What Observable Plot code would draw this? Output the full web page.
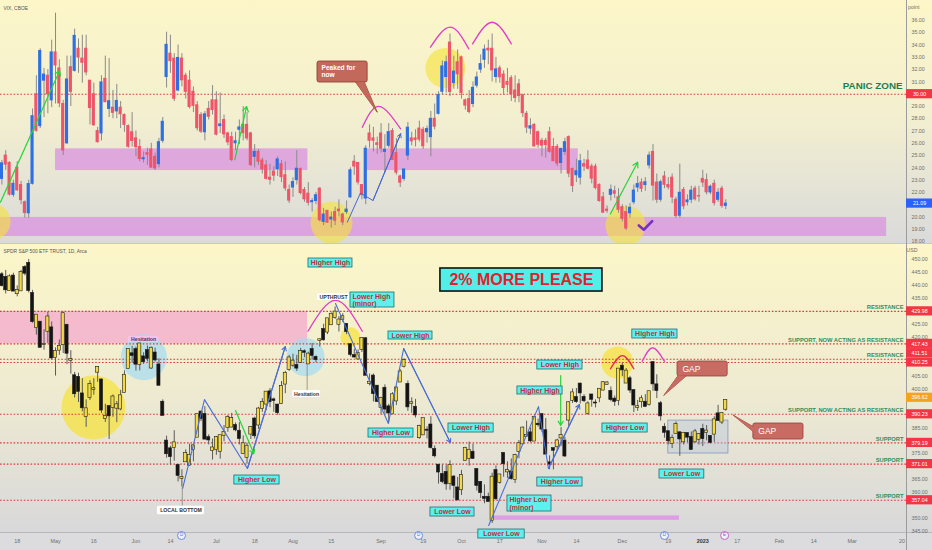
<!DOCTYPE html>
<html>
<head>
<meta charset="utf-8">
<script src="https://cdn.jsdelivr.net/npm/d3@7"></script>
<script src="https://cdn.jsdelivr.net/npm/@observablehq/plot@0.6"></script>
<style>
  html,body{margin:0;padding:0;background:#fff;}
  #wrap{position:relative;width:932px;height:550px;overflow:hidden;font-family:"Liberation Sans",Arial,sans-serif;}
  .layer{position:absolute;left:0;}
  #bgTop{top:0;height:243px;width:932px;background:linear-gradient(180deg,#fcf6c8 0%,#f4f0cf 45%,#dadada 100%);}
  #sep{top:243px;height:1px;width:932px;background:#c8c8c8;}
  #bgBot{top:244px;height:288px;width:932px;background:linear-gradient(180deg,#fcf6c8 0%,#efebd1 50%,#d8d8da 100%);}
  #axisStrip{top:532px;height:18px;width:932px;background:#dcdcde;border-top:1px solid #b9b9b9;box-sizing:border-box;}
  #vline{top:0;left:906px;width:1px;height:550px;background:#9c9c9c;}
  #topPlot{top:0;}
  #botPlot{top:244px;}
</style>
</head>
<body>
<div id="wrap">
  <div id="bgTop" class="layer"></div>
  <div id="sep" class="layer"></div>
  <div id="bgBot" class="layer"></div>
  <div id="axisStrip" class="layer"></div>
  <div id="vline" class="layer"></div>
  <div id="topPlot" class="layer"></div>
  <div id="botPlot" class="layer"></div>
</div>
<script>
// ================= DATA (x = trading-day index, 0 = 2022-04-11) =================
const xTickIndex = [4,14,24,35,44,56,66,76,86,99,110,120,130,141,150,162,174,183,192,203,212,222,235];
const xTickLabel = ["18","May","16","Jun","14","Jul","18","Aug","15","Sep","19","Oct","17","Nov","14","Dec","19","2023","17","Feb","14","Mar","20"];

const vixTicks = [18,19,20,21,22,23,24,25,26,27,28,29,30,31,32,33,34,35,36];
const spyTicks = [345,350,355,360,365,370,375,380,385,390,395,400,405,410,415,420,425,430,435,440,445,450];

// VIX, CBOE daily
const vixOpen = [23.1,25.0,24.4,21.8,24.0,22.6,21.2,20.3,22.7,30.0, 27.4,31.1,31.5,29.5,33.4,32.1,29.2,26.0,32.2,31.9, 33.7,32.9,33.7,31.1,30.0,27.0,26.8,31.25,28.8,28.9, 28.6,28.9,28.3,27.4,26.9,26.4,25.7,24.7,25.2,25.5, 24.9,24.3,26.2,31.4,33.3,32.9,30.3,32.9,31.5,31.1, 30.2,29.1,28.3,26.9,28.8,29.5,29.5,27.4,27.9,26.8, 26.5,26.0,27.1,27.5,27.5,26.8,24.9,25.3,24.6,24.2, 23.2,23.7,23.9,24.3,23.4,22.2,22.4,23.0,23.9,22.2, 21.9,21.2,21.3,22.3,19.6,20.5,19.8,20.4,20.6,20.2, 20.4,21.6,24.5,24.4,22.6,21.5,26.8,26.4,26.0,26.8, 25.3,25.8,27.0,25.2,23.3,23.1,25.0,26.4,26.4,27.2, 27.1,26.9,26.5,28.0,28.4,30.2,31.4,34.2,30.9,32.6, 33.0,29.5,29.6,29.2,30.7,32.0,32.8,33.7,33.7,31.4, 32.1,31.6,31.0,31.3,30.3,30.8,29.9,28.4,27.2,27.5, 26.9,26.2,26.2,26.9,25.7,25.7,24.4,25.3,26.5,23.9, 23.4,23.2,24.3,24.6,24.1,24.1,22.6,21.6,20.6,21.8, 22.1,21.6,20.8,20.4,20.3,21.2,22.4,22.8,22.6,24.2, 25.3,22.8,21.4,23.3,22.6,23.2,21.4,20.1,22.2,21.2, 21.4,22.3,21.7,23.1,23.0,22.0,22.7,21.4,22.3,20.9];
const vixHigh = [24.6,25.4,24.5,23.0,24.5,22.9,21.3,23.0,28.8,31.5, 33.7,32.1,32.0,34.4,36.6,32.8,29.5,33.1,33.1,35.3, 34.5,34.8,34.8,31.1,30.9,27.3,31.5,33.1,32.9,30.3, 30.8,29.4,28.4,27.5,28.5,27.0,26.3,25.3,25.6,26.0, 25.2,26.4,28.1,35.05,34.8,33.3,34.0,33.3,31.7,31.9, 30.6,29.4,28.5,28.6,29.4,30.7,30.2,30.1,28.3,26.9, 26.9,26.9,27.9,29.0,28.5,26.9,25.9,25.5,24.8,24.6, 24.3,24.1,24.9,24.6,24.5,22.6,23.2,25.4,24.0,22.4, 22.8,21.5,22.0,22.4,20.7,20.5,20.4,20.8,21.4,20.3, 21.3,24.0,25.0,24.4,22.6,25.8,27.5,27.3,26.5,27.6, 26.7,27.6,27.2,26.4,23.4,23.9,27.7,26.9,27.1,27.8, 27.3,27.4,28.6,29.2,30.2,32.7,33.1,34.9,33.1,33.6, 33.1,29.6,30.3,31.0,31.8,33.2,34.0,34.4,34.9,33.0, 32.3,31.9,32.1,31.5,31.5,31.2,30.0,28.6,28.0,27.6, 27.0,26.4,26.4,27.3,26.4,25.9,25.6,26.4,26.6,24.0, 24.7,25.1,24.7,25.4,24.3,24.3,22.7,22.0,20.9,22.6, 22.5,22.3,21.0,20.9,21.1,22.6,23.3,23.1,23.2,25.3, 25.9,23.5,23.0,23.7,23.2,23.5,21.6,24.3,22.4,21.8, 22.5,22.5,22.5,23.8,23.5,22.6,23.0,22.3,22.5,21.4];
const vixLow = [22.6,23.8,21.7,21.6,22.1,21.0,19.9,19.9,22.6,26.9, 27.2,28.1,28.4,28.9,29.2,28.9,25.0,25.9,29.0,31.8, 31.7,30.9,31.5,27.5,27.4,26.0,26.2,29.3,28.1,28.0, 28.0,27.2,26.9,25.6,25.7,24.9,24.5,24.4,24.2,24.0, 23.8,24.0,26.0,30.5,31.7,29.4,30.2,30.6,29.6,28.8, 28.5,27.0,26.8,26.2,27.9,28.3,26.6,26.8,26.4,25.8, 24.5,25.4,25.9,26.2,26.2,24.1,24.0,24.2,23.5,23.0, 22.6,22.9,23.3,22.8,22.1,21.1,21.6,22.6,21.8,21.2, 20.9,20.4,21.0,19.6,19.3,19.5,19.1,19.3,20.0,19.3, 20.2,21.5,23.4,22.6,21.4,21.0,25.6,25.3,25.1,25.2, 23.6,25.6,24.6,23.4,22.4,22.9,24.6,25.8,25.7,26.1, 25.5,26.0,24.9,27.1,28.3,29.9,30.1,29.8,30.4,30.4, 29.6,28.7,28.4,28.9,30.5,31.7,32.1,32.4,31.0,30.9, 30.9,29.9,30.1,29.4,29.3,29.3,28.1,26.8,26.7,25.7, 25.6,24.9,24.8,25.2,24.5,24.1,23.5,25.0,23.2,22.0, 22.8,22.6,23.7,23.8,22.7,22.2,21.2,20.3,20.3,21.3, 21.5,20.3,19.6,18.9,19.9,21.0,22.0,22.0,22.1,23.9, 21.3,21.1,21.2,22.3,22.2,21.1,19.9,19.9,20.6,20.9, 21.1,21.3,21.2,22.4,21.8,21.8,20.9,21.2,20.7,20.6];
const vixClose = [24.37,24.26,21.82,22.7,22.17,21.37,20.32,22.68,28.21,27.02, 33.52,31.6,29.99,33.4,32.34,29.25,25.42,31.2,30.19,34.75, 32.99,32.56,31.77,28.87,27.47,26.1,30.96,29.35,29.43,28.48, 29.45,28.37,27.5,25.72,26.19,25.69,24.72,24.79,25.07,24.02, 23.96,26.09,27.75,34.02,32.69,29.62,32.95,31.13,30.19,28.95, 29.05,27.23,26.95,28.36,28.16,28.71,26.7,27.54,26.73,26.08, 24.64,26.17,27.29,26.82,26.4,24.23,25.3,24.5,23.88,23.11, 23.03,23.36,24.69,23.24,22.33,21.33,22.84,23.93,21.95,21.44, 21.15,21.29,21.77,19.74,20.2,19.53,19.95,19.69,20.47,19.56, 20.6,23.8,24.11,22.82,21.78,25.56,26.21,26.21,25.87,25.56, 25.47,26.91,24.64,23.61,22.79,23.87,27.27,26.16,26.27,26.3, 25.76,27.16,27.99,27.35,29.92,32.26,32.6,30.18,31.84,31.62, 30.1,29.07,28.55,30.52,31.36,32.45,33.63,33.57,31.94,32.02, 31.37,30.5,30.76,29.98,29.69,29.85,28.46,27.28,27.39,25.75, 25.88,25.81,25.86,25.3,24.55,24.35,25.54,26.09,23.53,22.52, 23.73,24.54,24.11,23.93,23.12,22.36,21.3,20.35,20.5,22.21, 21.89,20.58,19.84,19.06,20.75,22.15,22.68,22.29,22.83,25.0, 22.55,21.4,22.83,22.62,22.42,21.6,20.07,21.97,20.87,21.35, 22.14,21.44,21.67,22.8,22.01,22.46,21.13,21.97,20.9,21.09];

// SPDR S&P 500 ETF TRUST daily
const spyOpen = [444.1,443.1,438.0,443.6,436.8,437.9,446.9,448.5,436.9,423.7, 425.8,417.2,422.3,423.6,412.1,415.0,417.1,424.6,411.1,405.1, 404.5,398.1,389.4,396.7,399.9,406.5,403.5,388.6,393.2,392.8, 392.6,392.3,398.7,407.9,413.6,415.2,409.4,412.4,414.8,408.1, 413.9,409.3,394.9,379.9,376.9,377.4,370.5,365.5,371.9,370.6, 376.6,381.4,391.1,390.2,381.2,376.2,376.6,375.9,382.1,385.1, 385.3,385.9,383.7,375.1,373.6,382.6,388.4,386.1,392.5,394.2, 398.9,395.8,393.8,394.4,401.9,407.6,409.2,409.1,410.3,414.4, 409.7,415.25,412.2,418.8,422.99,422.0,424.8,427.7,425.0,426.9, 424.98,417.1,412.9,411.6,415.2,419.4,402.2,405.0,401.1,392.9, 400.3,393.1,390.4,395.4,402.7,408.8,401.8,394.5,392.96,381.2, 382.3,384.1,386.1,376.6,370.6,367.0,367.8,363.6,366.0,361.8, 361.1,372.4,373.2,375.6,368.97,363.96,358.2,358.2,349.2,368.5, 364.0,375.1,368.0,368.0,365.1,375.9,378.8,381.6,383.1,379.9, 386.4,390.1,383.9,371.5,377.0,377.7,381.1,379.9,388.0,395.6, 396.7,401.9,396.8,390.5,397.7,394.6,396.6,399.6,401.8,399.1, 396.1,395.5,408.8,402.3,403.95,399.4,392.9,395.1,394.9,394.1, 410.2,401.6,394.3,385.2,383.5,379.0,382.8,383.1,379.6,382.8, 381.3,379.6,380.6,384.4,383.2,381.7,382.6,390.4,387.25,392.2];
const spyHigh = [445.0,445.8,444.1,444.7,439.8,445.8,447.6,450.0,438.1,428.7, 426.0,422.9,429.6,425.9,415.9,418.9,429.7,425.0,414.8,406.4, 406.1,404.0,395.8,403.2,404.0,408.6,403.8,394.1,393.6,397.7, 395.2,399.5,407.0,415.4,416.5,416.2,417.4,414.0,416.6,416.2, 415.8,411.7,395.8,381.8,377.9,383.9,370.9,368.8,376.5,378.7, 378.8,390.1,391.4,393.2,382.3,380.7,381.7,382.0,385.9,389.8, 390.6,386.9,387.0,381.9,379.1,385.3,389.1,392.9,396.3,398.9, 400.2,396.5,394.1,402.9,406.8,413.0,413.4,413.0,415.7,415.1, 414.2,417.6,412.8,419.3,425.0,427.2,429.4,431.7,428.0,429.1, 425.3,417.5,415.4,415.1,419.6,419.9,405.8,405.8,401.2,396.8, 401.6,394.1,398.6,401.0,407.5,411.7,403.1,396.6,396.0,386.0, 388.6,385.4,389.3,378.0,370.6,370.7,370.4,372.3,366.6,365.9, 368.6,377.5,379.5,378.7,369.0,364.2,363.0,359.8,367.5,370.3, 366.8,375.5,371.9,373.0,374.8,380.1,385.3,387.6,385.0,389.5, 388.4,390.4,388.6,374.2,377.1,380.6,385.1,381.3,395.0,400.0, 400.2,402.3,397.8,395.1,397.8,395.8,400.1,402.9,402.9,400.8, 397.3,407.7,410.0,407.9,404.9,399.7,395.6,397.4,397.8,399.0, 410.5,405.5,395.2,386.6,383.8,382.2,387.3,383.3,383.0,383.1, 383.4,384.4,382.6,386.4,385.9,381.8,389.3,393.7,390.7,395.6];
const spyLow = [439.4,436.7,437.8,437.7,435.6,437.7,443.7,437.1,425.4,420.8, 416.1,415.0,417.6,411.2,405.0,413.0,413.7,409.4,405.7,396.5, 394.8,391.2,385.2,395.6,397.6,402.6,390.5,387.1,380.5,389.1, 387.0,391.6,398.5,407.7,410.0,406.9,407.0,409.5,410.5,407.6, 410.4,401.4,389.7,373.3,370.6,372.1,364.1,362.2,371.8,370.2, 371.9,381.4,387.4,380.4,378.4,372.6,374.4,372.9,379.6,383.3, 385.2,383.5,378.4,374.7,371.0,380.5,380.7,384.4,391.0,391.6, 392.8,391.0,389.9,394.0,398.2,406.8,408.4,406.8,410.0,412.1, 409.6,411.2,410.2,416.2,418.5,421.0,424.7,426.9,422.0,425.7, 421.0,412.4,412.0,411.4,414.1,405.3,401.2,395.0,394.8,390.0, 390.3,387.0,390.2,393.6,402.5,408.1,391.4,390.6,388.8,380.6, 382.2,380.7,376.8,373.4,363.3,363.5,360.9,360.9,357.6,357.0, 358.9,372.2,370.2,372.8,360.6,357.7,355.7,356.4,348.1,356.96, 363.3,365.9,365.5,364.8,363.5,373.1,378.7,381.4,379.3,379.7, 385.3,383.3,374.8,368.8,368.8,375.9,377.7,373.6,385.6,394.4, 394.5,394.2,394.8,389.9,393.0,392.7,394.7,399.3,401.5,395.1, 393.3,393.5,404.8,402.2,398.3,390.9,391.4,392.6,393.0,393.4, 399.1,396.3,387.6,381.0,378.4,377.0,382.6,374.0,378.4,379.2, 376.4,379.1,378.4,377.8,380.0,378.8,379.4,387.7,386.3,391.4];
const spyClose = [439.9,438.3,443.3,437.8,437.97,445.04,444.71,438.06,426.04,428.51, 416.1,417.27,427.81,412.0,414.48,416.38,429.06,413.81,411.34,398.17, 399.09,392.75,392.34,401.72,400.09,408.32,391.86,389.46,389.63,396.92, 393.89,397.37,405.31,415.26,412.93,409.59,417.39,410.54,411.79,415.74, 411.22,401.44,389.8,375.0,373.87,379.2,366.65,365.86,375.07,374.39, 378.06,390.08,388.59,380.65,380.34,377.25,381.24,381.96,383.25,388.99, 388.67,384.23,380.83,378.83,377.91,385.13,381.95,392.27,394.77,398.79, 395.09,395.57,390.89,401.04,406.07,411.99,410.77,408.06,414.45,414.17, 413.47,412.99,411.35,419.0,419.0,427.1,428.86,429.7,426.65,427.89, 422.14,413.35,412.35,413.67,419.51,405.31,402.63,398.21,395.18,396.42, 392.24,390.76,397.78,400.38,406.6,410.97,393.1,394.69,389.98,385.56, 388.55,384.09,377.39,374.22,367.95,364.31,363.38,370.53,362.79,357.18, 366.61,377.09,376.35,373.2,362.79,360.02,357.74,356.56,365.97,357.63, 366.82,371.13,368.5,365.41,374.29,378.87,384.92,382.02,379.98,389.02, 386.21,384.52,374.87,371.01,376.35,379.95,382.0,374.13,394.69,398.51, 395.12,398.49,395.45,394.24,396.03,394.59,399.9,402.42,402.33,395.91, 395.23,407.68,407.38,406.91,399.59,393.83,393.16,396.24,393.28,398.95, 401.97,399.4,389.63,383.27,380.02,380.92,386.23,380.72,382.91,381.4, 376.66,383.44,382.43,380.82,383.76,379.38,388.08,387.86,390.58,395.52];

// ---------- levels & last prices ----------
const vixPanic = 30;
const vixLast = 21.09;
const spyLevels = [429.98, 417.43, 411.51, 410.25, 390.23, 379.19, 371.01, 357.04];
const spyLast = 396.62;

// ---------- VIX annotations (x: bar index, y: VIX points) ----------
const vixZones = [
  {x1: 14.0, x2: 79.9, y1: 23.78, y2: 25.55},
  {x1: 94.9, x2: 150.5, y1: 23.78, y2: 25.55},
  {x1: -1, x2: 231.0, y1: 18.41, y2: 19.96}
];
const vixCircles = [
  {x: -2.45, y: 19.63, r: 18}, {x: 86.06, y: 19.55, r: 21},
  {x: 115.8, y: 32.13, r: 20}, {x: 162.8, y: 19.31, r: 20}
];
const vixGreenArrows = [
  {x1: -0.37, y1: 21.2, x2: 15.1, y2: 31.93},
  {x1: 60.8, y1: 24.66, x2: 63.9, y2: 29.0},
  {x1: 158.9, y1: 20.26, x2: 166.0, y2: 24.46}
];
const vixBluePath = [{x: 90.2, y: 19.58}, {x: 93.6, y: 21.94}, {x: 96.9, y: 21.34}, {x: 104.1, y: 26.77}];
const vixArcs = [
  {id: 1, x: 94.1, y: 27.31}, {id: 1, x: 98.4, y: 29.0}, {id: 1, x: 104.1, y: 27.18},
  {id: 2, x: 111.9, y: 33.83}, {id: 2, x: 117.1, y: 35.46}, {id: 2, x: 121.9, y: 33.69},
  {id: 3, x: 122.9, y: 34.1}, {id: 3, x: 128.0, y: 35.86}, {id: 3, x: 133.0, y: 34.1}
];
const vixCallout = [{x1: 82.4, x2: 95.5, y1: 30.95, y2: 32.66, text: "Peaked for\nnow"}];
const vixCalloutTail = [{x: 92.3, y: 31.0}, {x: 98.0, y: 28.53}, {x: 94.6, y: 31.0}];
const vixCheck = [{x: 166.3, y: 19.31}, {x: 167.6, y: 18.96}, {x: 169.8, y: 19.66}];

// ---------- SPY annotations (x: bar index, y: USD) ----------
const spyZones = [{x1: -1, x2: 79.8, y1: 417.43, y2: 429.98}];
const spyLowBar = [{x1: 127.6, x2: 176.9, y1: 349.3, y2: 351.0}];
const spyYellow = [{x: 23.9, y: 392.9, r: 32}, {x: 91.0, y: 420.0, r: 10}, {x: 160.7, y: 410.2, r: 16}];
const spyBlueCircles = [{x: 37.05, y: 412.3, r: 23}, {x: 79.3, y: 412.3, r: 19}];
const spyZigzags = [
  {id: 1, x: 47.2, y: 361.6}, {id: 1, x: 52.9, y: 395.9}, {id: 1, x: 64.1, y: 369.3}, {id: 1, x: 74.0, y: 416.4},
  {id: 2, x: 87.1, y: 433.0}, {id: 2, x: 100.9, y: 386.7}, {id: 2, x: 104.9, y: 415.6}, {id: 2, x: 117.1, y: 379.3},
  {id: 3, x: 127.1, y: 347.3}, {id: 3, x: 140.1, y: 393.2}, {id: 3, x: 142.7, y: 369.3}, {id: 3, x: 150.8, y: 394.0}
];
const spyGreenArrows = [{x1: 61.0, y1: 391.7, x2: 65.8, y2: 375.0}, {x1: 145.9, y1: 405.2, x2: 145.9, y2: 385.9}];
const spyArcs = [
  {id: 1, x: 79.9, y: 422.3}, {id: 1, x: 87.1, y: 434.2}, {id: 1, x: 94.1, y: 422.3},
  {id: 2, x: 158.9, y: 407.8}, {id: 2, x: 162.0, y: 412.9}, {id: 2, x: 165.0, y: 407.8},
  {id: 3, x: 167.2, y: 410.7}, {id: 3, x: 169.9, y: 415.9}, {id: 3, x: 173.0, y: 410.7}
];
const spyConnectors = [{x: 47.1, y1: 362.2, y2: 354.75}, {x: 79.7, y1: 409.7, y2: 399.4}];
const whiteLabels = [
  {x1: 82.4, x2: 90.8, y1: 434.17, y2: 436.76, text: "UPTHRUST"},
  {x1: 75.9, x2: 83.2, y1: 396.7, y2: 399.4, text: "Hesitation"},
  {x1: 40.6, x2: 52.9, y1: 351.43, y2: 354.75, text: "LOCAL BOTTOM"}
];
const pinkLabels = [{x1: 33.0, x2: 41.0, y1: 417.95, y2: 420.27, text: "Hesitation"}];
const cyanOne = [
  {x1: 80.05, x2: 91.54, y1: 446.91, y2: 450.39, text: "Higher High"},
  {x1: 100.94, x2: 112.43, y1: 419.11, y2: 422.2, text: "Lower High"},
  {x1: 95.72, x2: 107.47, y1: 381.27, y2: 384.75, text: "Higher Low"},
  {x1: 116.6, x2: 128.4, y1: 383.2, y2: 386.68, text: "Lower High"},
  {x1: 111.9, x2: 123.4, y1: 350.77, y2: 354.25, text: "Lower Low"},
  {x1: 139.8, x2: 151.6, y1: 407.53, y2: 411.0, text: "Lower High"},
  {x1: 134.6, x2: 146.4, y1: 397.88, y2: 400.97, text: "Higher High"},
  {x1: 139.8, x2: 151.6, y1: 362.36, y2: 365.83, text: "Higher Low"},
  {x1: 124.4, x2: 136.5, y1: 342.28, y2: 345.75, text: "Lower Low"},
  {x1: 60.7, x2: 72.5, y1: 363.13, y2: 366.6, text: "Higher Low"},
  {x1: 164.6, x2: 176.4, y1: 419.5, y2: 422.97, text: "Higher High"},
  {x1: 156.8, x2: 168.6, y1: 383.2, y2: 386.68, text: "Higher Low"},
  {x1: 171.7, x2: 183.4, y1: 365.44, y2: 368.92, text: "Lower Low"}
];
const cyanTwo = [
  {x1: 91.02, x2: 102.5, y1: 431.47, y2: 437.26, text: "Lower High\n(minor)"},
  {x1: 132.0, x2: 143.5, y1: 352.7, y2: 358.88, text: "Higher Low\n(minor)"}
];
const bigBanner = [{x1: 114.5, x2: 156.8, y1: 437.64, y2: 446.53, text: "2% MORE PLEASE"}];
const gapBox = [{x1: 174.0, x2: 189.7, y1: 375.1, y2: 387.8}];
const gapCallouts = [
  {x1: 176.4, x2: 189.5, y1: 404.83, y2: 410.62, text: "GAP"},
  {x1: 196.2, x2: 209.3, y1: 380.5, y2: 386.68, text: "GAP"}
];
const gapTails = [
  {id: 1, x: 176.6, y: 405.3}, {id: 1, x: 172.8, y: 397.5}, {id: 1, x: 178.6, y: 405.0},
  {id: 2, x: 196.4, y: 385.25}, {id: 2, x: 190.9, y: 389.96}, {id: 2, x: 196.4, y: 383.3}
];
const levelTexts = [
  {v: 429.98, text: "RESISTANCE"},
  {v: 417.43, text: "SUPPORT, NOW ACTING AS RESISTANCE"},
  {v: 411.51, text: "RESISTANCE"},
  {v: 390.23, text: "SUPPORT, NOW ACTING AS RESISTANCE"},
  {v: 379.19, text: "SUPPORT"},
  {v: 371.01, text: "SUPPORT"},
  {v: 357.04, text: "SUPPORT"}
];
const eventIndex = [46.9, 108.8, 173.0, 188.7];
const eventLetter = ["D", "D", "D", "E"];

// ================= RENDER =================
const FONT = "Liberation Sans, Arial, sans-serif";
const xDom = [-0.3655, 236.19];
const xMax = xDom[1];
const AX = "#6e6e6e";
const vixDom = [17.84, 37.63], vixPx = 243 / (vixDom[1] - vixDom[0]);
const spyDom = [344.6, 455.41], spyPx = 287 / (spyDom[1] - spyDom[0]);

const vixRows = vixClose.map((c, i) => ({i, o: vixOpen[i], h: vixHigh[i], l: vixLow[i], c}));
const spyRows = spyClose.map((c, i) => ({i, o: spyOpen[i], h: spyHigh[i], l: spyLow[i], c}));
const xTicks = xTickIndex.map((i, k) => ({i, label: xTickLabel[k]}));
const events = eventIndex.map((i, k) => ({i, t: eventLetter[k]}));

// price tags stacked like the platform does (no overlap, 9.3px apart)
function stackTags(tags, pxPerUnit) {
  const s = tags.map(d => ({...d})).sort((a, b) => a.v - b.v);
  let prev = -Infinity;
  for (const t of s) {
    let p = t.v * pxPerUnit;
    if (p < prev + 9.3) p = prev + 9.3;
    t.pos = p / pxPerUnit; prev = p;
  }
  return s;
}
const vixTags = stackTags([{v: vixPanic, bg: "#f23645"}, {v: vixLast, bg: "#2962ff"}], vixPx);
const spyTags = stackTags(spyLevels.map(v => ({v, bg: "#f23645"})).concat([{v: spyLast, bg: "#f5a21d"}]), spyPx);
const freeTicks = (ticks, tags, px) => ticks.filter(t => d3.min(tags, g => Math.abs(g.pos - t)) * px >= 6);

function candleMarks(rows, up, down, wick, outline, ow) {
  return [
    Plot.ruleX(rows, {x: "i", y1: "l", y2: "h", stroke: wick, strokeWidth: 1}),
    Plot.rect(rows, {x1: d => d.i - 0.41, x2: d => d.i + 0.41, y1: "o", y2: "c",
      fill: d => d.c >= d.o ? up : down, stroke: outline, strokeWidth: ow,
      insetTop: -0.5, insetBottom: -0.5})
  ];
}
function priceTags(rows, fs) {
  return [
    Plot.rect(rows, {x1: () => xMax, x2: () => xMax, y1: "pos", y2: "pos", insetRight: -26, insetTop: -4.6, insetBottom: -4.6, fill: "bg"}),
    Plot.text(rows, {x: () => xMax, y: "pos", text: d => d.v.toFixed(2), dx: 13, fill: "#ffffff", fontSize: fs})
  ];
}
function boxLabels(rows, fill, stroke, textFill, fs, weight, rx) {
  return [
    Plot.rect(rows, {x1: "x1", x2: "x2", y1: "y1", y2: "y2", fill, stroke, strokeWidth: 0.8, rx}),
    Plot.text(rows, {x: d => (d.x1 + d.x2) / 2, y: d => (d.y1 + d.y2) / 2, text: "text", fill: textFill, fontSize: fs, fontWeight: weight})
  ];
}

const topPlot = Plot.plot({
  width: 932, height: 243,
  marginLeft: 0, marginRight: 26, marginTop: 0, marginBottom: 0,
  x: {domain: xDom, axis: null},
  y: {domain: vixDom},
  r: {type: "identity"},
  style: {background: "transparent", overflow: "hidden", fontFamily: FONT, color: AX},
  marks: [
    Plot.rect(vixZones, {x1: "x1", x2: "x2", y1: "y1", y2: "y2", fill: "#d98fe0", fillOpacity: 0.72}),
    Plot.dot(vixCircles, {x: "x", y: "y", r: "r", fill: "#f6e23a", fillOpacity: 0.62}),
    Plot.ruleY([vixPanic], {stroke: "#d83b3b", strokeDasharray: "1.6,1.8", strokeWidth: 1.1}),
    ...candleMarks(vixRows, "#2d6fe4", "#ef5568", "#8a8a8a", "none", 0),
    Plot.line(vixBluePath, {x: "x", y: "y", stroke: "#4566d8", strokeWidth: 1}),
    Plot.arrow([0], {x1: () => vixBluePath[2].x, y1: () => vixBluePath[2].y, x2: () => vixBluePath[3].x, y2: () => vixBluePath[3].y, stroke: "#4566d8", strokeWidth: 1, headLength: 6}),
    Plot.line(vixArcs, {x: "x", y: "y", z: "id", curve: "natural", stroke: "#e03cc6", strokeWidth: 1.3}),
    Plot.arrow(vixGreenArrows, {x1: "x1", y1: "y1", x2: "x2", y2: "y2", stroke: "#25d63a", strokeWidth: 1.2, headLength: 7}),
    Plot.line(vixCalloutTail, {x: "x", y: "y", fill: "#c2695b", stroke: "#8c3a30", strokeWidth: 0.8}),
    Plot.rect(vixCallout, {x1: "x1", x2: "x2", y1: "y1", y2: "y2", fill: "#c2695b", stroke: "#8c3a30", strokeWidth: 0.8, rx: 2}),
    Plot.line(vixCalloutTail, {x: "x", y: "y", fill: "#c2695b", stroke: "none"}),
    Plot.text(vixCallout, {x: "x1", y: "y2", text: "text", dx: 4, dy: 4, textAnchor: "start", lineAnchor: "top", fill: "#ffffff", fontWeight: "bold", fontSize: 6.6, lineHeight: 1.05}),
    Plot.line(vixCheck, {x: "x", y: "y", stroke: "#7a2fc4", strokeWidth: 2.6, strokeLinecap: "round", strokeLinejoin: "round"}),
    Plot.text(["PANIC ZONE"], {x: () => xMax, y: () => vixPanic, text: d => d, dx: -4, dy: -8, textAnchor: "end", fill: "#1f7d55", fontWeight: "bold", fontSize: 9.8}),
    Plot.axisY({anchor: "right", ticks: freeTicks(vixTicks, vixTags, vixPx), tickFormat: d => d.toFixed(2), tickSize: 0, tickPadding: 5, fontSize: 5.3, label: null}),
    ...priceTags(vixTags, 5.3),
    Plot.text(["point"], {frameAnchor: "top-right", dx: 13, dy: 5, text: d => d, fontSize: 5.3, fill: AX}),
    Plot.text(["VIX, CBOE"], {frameAnchor: "top-left", dx: 3, dy: 6, text: d => d, textAnchor: "start", fontSize: 4.9, fill: "#555"})
  ]
});
document.getElementById("topPlot").appendChild(topPlot);

const arcColor = {1: "#e03cc6", 2: "#e8285e", 3: "#e03cc6"};
const botPlot = Plot.plot({
  width: 932, height: 306,
  marginLeft: 0, marginRight: 26, marginTop: 1, marginBottom: 18,
  x: {domain: xDom, axis: null},
  y: {domain: spyDom},
  r: {type: "identity"},
  style: {background: "transparent", overflow: "hidden", fontFamily: FONT, color: AX},
  marks: [
    Plot.rect(spyZones, {x1: "x1", x2: "x2", y1: "y1", y2: "y2", fill: "#f59ccd", fillOpacity: 0.65}),
    Plot.rect(spyLowBar, {x1: "x1", x2: "x2", y1: "y1", y2: "y2", fill: "#df96e6", fillOpacity: 0.9}),
    Plot.dot(spyBlueCircles, {x: "x", y: "y", r: "r", fill: "#a2dcf2", fillOpacity: 0.7}),
    Plot.dot(spyYellow, {x: "x", y: "y", r: "r", fill: "#f6e23a", fillOpacity: 0.72}),
    Plot.ruleY(spyLevels, {stroke: "#d83b3b", strokeDasharray: "1.6,1.8", strokeWidth: 1.1}),
    Plot.rect(gapBox, {x1: "x1", x2: "x2", y1: "y1", y2: "y2", fill: "#b9c5de", fillOpacity: 0.45, stroke: "#8796bd", strokeWidth: 0.8}),
    ...candleMarks(spyRows, "#f3da45", "#141414", "#5a5a5a", "#1c1c1c", 0.6),
    Plot.line(spyZigzags, {x: "x", y: "y", z: "id", stroke: "#4a6ed8", strokeWidth: 1.1}),
    Plot.arrow([1, 2, 3], {
      x1: id => spyZigzags.filter(p => p.id === id)[2].x, y1: id => spyZigzags.filter(p => p.id === id)[2].y,
      x2: id => spyZigzags.filter(p => p.id === id)[3].x, y2: id => spyZigzags.filter(p => p.id === id)[3].y,
      stroke: "#4a6ed8", strokeWidth: 1.1, headLength: 6}),
    Plot.line(spyArcs, {x: "x", y: "y", z: "id", curve: "natural", stroke: d => arcColor[d.id], strokeWidth: 1.3}),
    Plot.arrow(spyGreenArrows, {x1: "x1", y1: "y1", x2: "x2", y2: "y2", stroke: "#25d63a", strokeWidth: 1.2, headLength: 6}),
    Plot.ruleX(spyConnectors, {x: "x", y1: "y1", y2: "y2", stroke: "#7a7a7a", strokeWidth: 0.7}),
    ...boxLabels(whiteLabels, "#ffffff", "none", "#333333", 5.2, "bold", 1.5),
    ...boxLabels(pinkLabels, "#f6c3ee", "none", "#5a2b55", 5.2, "bold", 1.5),
    ...boxLabels(cyanOne, "#5cf1ee", "#1e6c70", "#c22d3a", 7, "bold", 0),
    Plot.rect(cyanTwo, {x1: "x1", x2: "x2", y1: "y1", y2: "y2", fill: "#5cf1ee", stroke: "#1e6c70", strokeWidth: 0.8}),
    Plot.text(cyanTwo, {x: "x1", y: d => (d.y1 + d.y2) / 2, text: "text", dx: 2, textAnchor: "start", fill: "#c22d3a", fontSize: 7, fontWeight: "bold", lineHeight: 1.05}),
    Plot.rect(bigBanner, {x1: "x1", x2: "x2", y1: "y1", y2: "y2", fill: "#52efe9", stroke: "#111111", strokeWidth: 1.6}),
    Plot.text(bigBanner, {x: d => (d.x1 + d.x2) / 2, y: d => (d.y1 + d.y2) / 2, text: "text", fill: "#e3202e", fontSize: 16, fontWeight: "bold"}),
    Plot.line(gapTails, {x: "x", y: "y", z: "id", fill: "#c86b63", stroke: "#96403a", strokeWidth: 0.8}),
    Plot.rect(gapCallouts, {x1: "x1", x2: "x2", y1: "y1", y2: "y2", fill: "#c86b63", stroke: "#96403a", strokeWidth: 0.8, rx: 2}),
    Plot.line(gapTails, {x: "x", y: "y", z: "id", fill: "#c86b63", stroke: "none"}),
    Plot.text(gapCallouts, {x: "x1", y: d => (d.y1 + d.y2) / 2, text: "text", dx: 5, textAnchor: "start", fill: "#ffffff", fontSize: 8.5}),
    Plot.text(levelTexts, {x: () => xMax, y: "v", text: "text", textAnchor: "end", lineAnchor: "bottom", dx: -3, dy: -2, fill: "#2f8f62", fontSize: 5.75, fontWeight: "bold"}),
    Plot.axisY({anchor: "right", ticks: freeTicks(spyTicks, spyTags, spyPx), tickFormat: d => d.toFixed(2), tickSize: 0, tickPadding: 5, fontSize: 5.3, label: null}),
    ...priceTags(spyTags, 5.3),
    Plot.text(["USD"], {frameAnchor: "top-right", dx: 11, dy: 3, text: d => d, fontSize: 5.3, fill: AX}),
    Plot.text(["SPDR S&P 500 ETF TRUST, 1D, Arca"], {frameAnchor: "top-left", dx: 3, dy: 4, text: d => d, textAnchor: "start", fontSize: 4.9, fill: "#555"}),
    Plot.text(xTicks.filter(d => d.label !== "2023"), {x: "i", frameAnchor: "bottom", dy: 10, text: "label", fontSize: 5.4, fill: AX}),
    Plot.text(xTicks.filter(d => d.label === "2023"), {x: "i", frameAnchor: "bottom", dy: 10, text: "label", fontSize: 5.4, fontWeight: "bold", fill: "#333"}),
    Plot.dot(events, {x: "i", frameAnchor: "bottom", dy: 3, r: 4, fill: "#eef1fb", stroke: d => d.t === "E" ? "#c43fc4" : "#4d74d9", strokeWidth: 0.8}),
    Plot.text(events, {x: "i", frameAnchor: "bottom", dy: 3, text: "t", fontSize: 4.5, fill: d => d.t === "E" ? "#c43fc4" : "#4d74d9"})
  ]
});
document.getElementById("botPlot").appendChild(botPlot);
</script>
</body>
</html>
